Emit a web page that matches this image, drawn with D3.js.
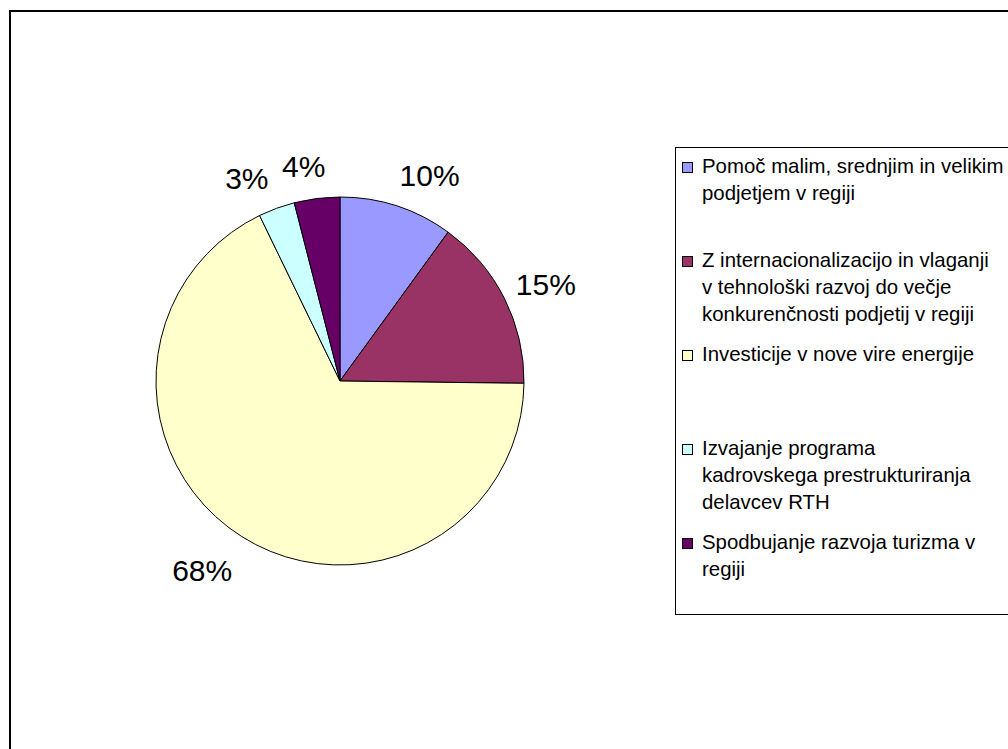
<!DOCTYPE html>
<html>
<head>
<meta charset="utf-8">
<title>Pie</title>
<script src="https://cdn.jsdelivr.net/npm/d3@7"></script>
<style>
  body{margin:0;background:#fff;}
  svg{display:block;}
  text{font-family:"Liberation Sans", Arial, sans-serif;fill:#000;}
</style>
</head>
<body>
<div id="chart"></div>
<script>
// categories (legend lines), shares in percent, slice colours
var categories = [
  ["Pomoč malim, srednjim in velikim", "podjetjem v regiji"],
  ["Z internacionalizacijo in vlaganji", "v tehnološki razvoj do večje", "konkurenčnosti podjetij v regiji"],
  ["Investicije v nove vire energije"],
  ["Izvajanje programa", "kadrovskega prestrukturiranja", "delavcev RTH"],
  ["Spodbujanje razvoja turizma v", "regiji"]
];
var values = [10.0, 15.2, 67.6, 3.2, 4.0];
var labels = ["10%", "15%", "68%", "3%", "4%"];
var colors = ["#9999FF", "#993366", "#FFFFCC", "#CCFFFF", "#660066"];

var width = 1008, height = 749;
var cx = 340, cy = 381, r = 184;

var svg = d3.select("#chart").append("svg")
  .attr("width", width)
  .attr("height", height);

// outer chart frame (runs off the right and bottom edge)
svg.append("rect")
  .attr("x", 10).attr("y", 11)
  .attr("width", 1100).attr("height", 800)
  .attr("fill", "none")
  .attr("stroke", "#000")
  .attr("stroke-width", 2);

var pie = d3.pie().sort(null).value(function(d){return d;});
var arcs = pie(values);
var arc = d3.arc().innerRadius(0).outerRadius(r);

var g = svg.append("g").attr("transform", "translate(" + cx + "," + cy + ")");

g.selectAll("path.slice")
  .data(arcs)
  .enter().append("path")
  .attr("class", "slice")
  .attr("d", arc)
  .attr("fill", function(d, i){return colors[i];})
  .attr("stroke", "#000")
  .attr("stroke-width", 1);

// percent labels outside the pie
var fs = 30;
g.selectAll("text.pct")
  .data(arcs)
  .enter().append("text")
  .attr("class", "pct")
  .style("font-size", fs + "px")
  .attr("text-anchor", "middle")
  .text(function(d, i){return labels[i];})
  .each(function(d){
    var a = (d.startAngle + d.endAngle) / 2;
    var w = this.getComputedTextLength();
    var px = (r + 6) * Math.sin(a), py = -(r + 6) * Math.cos(a);
    var lim = w / 2 + 6;
    var dx = Math.max(-lim, Math.min(lim, 100 * Math.sin(a)));
    var dy = -(Math.cos(a) > 0 ? 26 : 34) * Math.cos(a);
    d3.select(this)
      .attr("x", px + dx)
      .attr("y", py + dy + 0.358 * fs);
  });

// legend
var legend = svg.append("g");
legend.append("rect")
  .attr("x", 675.5).attr("y", 147.5)
  .attr("width", 400).attr("height", 467)
  .attr("fill", "#fff")
  .attr("stroke", "#000")
  .attr("stroke-width", 1);

var entryY = d3.scaleLinear().domain([0, 1]).range([173, 267]);
var lineH = 27;

var item = legend.selectAll("g.item")
  .data(categories)
  .enter().append("g")
  .attr("class", "item")
  .attr("transform", function(d, i){return "translate(0," + entryY(i) + ")";});

item.append("rect")
  .attr("x", 682.5).attr("y", -10.5)
  .attr("width", 10).attr("height", 10)
  .attr("fill", function(d, i){return colors[i];})
  .attr("stroke", "#000")
  .attr("stroke-width", 1);

item.append("text")
  .style("font-size", "20.4px")
  .selectAll("tspan")
  .data(function(d){return d;})
  .enter().append("tspan")
  .attr("x", 702)
  .attr("y", function(d, j){return j * lineH;})
  .text(function(d){return d;});
</script>
</body>
</html>
